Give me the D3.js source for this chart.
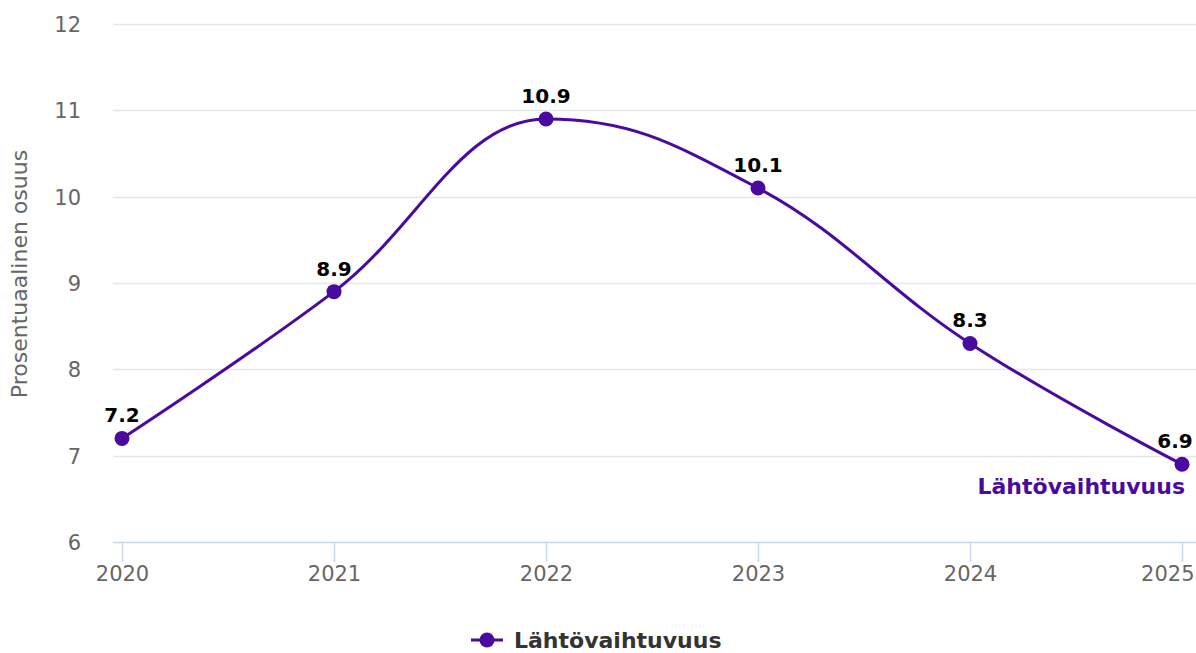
<!DOCTYPE html>
<html>
<head>
<meta charset="utf-8">
<script src="https://cdn.jsdelivr.net/npm/d3@7"></script>
<style>
  body { margin: 0; background: #fff; }
  svg { font-family: "DejaVu Sans", Verdana, sans-serif; }
</style>
</head>
<body>
<svg id="chart" width="1196" height="653"></svg>
<script>
var years = [2020, 2021, 2022, 2023, 2024, 2025];
var values = [7.2, 8.9, 10.9, 10.1, 8.3, 6.9];
var yTicks = [6, 7, 8, 9, 10, 11, 12];
var seriesName = "Lähtövaihtuvuus";
var axisTitle = "Prosentuaalinen osuus";

var color = "#4b0a9f";
var svg = d3.select("#chart");

var x = d3.scaleLinear().domain([2020, 2025]).range([122, 1182]);
var y = d3.scaleLinear().domain([6, 12]).range([542, 24]);

// grid
svg.append("g").selectAll("line")
  .data(yTicks.slice(1))
  .enter().append("line")
    .attr("x1", 113).attr("x2", 1196)
    .attr("y1", function(d) { return Math.round(y(d)) + 0.5; })
    .attr("y2", function(d) { return Math.round(y(d)) + 0.5; })
    .attr("stroke", "#e6e6e6").attr("stroke-width", 1.5);

// y labels
svg.append("g").selectAll("text")
  .data(yTicks)
  .enter().append("text")
    .attr("x", 81).attr("y", function(d) { return y(d) + 8; })
    .attr("text-anchor", "end")
    .attr("fill", "#666").attr("font-size", "21px")
    .text(function(d) { return d; });

svg.append("text")
  .attr("transform", "translate(27,274) rotate(-90)")
  .attr("text-anchor", "middle")
  .attr("fill", "#666").attr("font-size", "22px")
  .text(axisTitle);

// x axis
svg.append("line")
  .attr("x1", 113).attr("x2", 1196)
  .attr("y1", 542.5).attr("y2", 542.5)
  .attr("stroke", "#ccd6eb").attr("stroke-width", 1.5);
var xg = svg.append("g").selectAll("g")
  .data(years).enter().append("g")
  .attr("transform", function(d) { return "translate(" + (Math.round(x(d)) + 0.5) + ",0)"; });
xg.append("line").attr("y1", 542).attr("y2", 562)
  .attr("stroke", "#ccd6eb").attr("stroke-width", 1.5);
xg.append("text")
  .attr("y", 581)
  .attr("x", function(d, i) { return i === years.length - 1 ? 12 : 0; })
  .attr("text-anchor", function(d, i) { return i === years.length - 1 ? "end" : "middle"; })
  .attr("fill", "#666").attr("font-size", "21px")
  .text(function(d) { return d; });

// spline (Highcharts style)
var pts = years.map(function(d, i) { return [x(d), y(values[i])]; });
function splinePath(p) {
  var s = 1.5, den = 2.5, path = d3.path(), rc = [];
  path.moveTo(p[0][0], p[0][1]);
  rc[0] = p[0];
  for (var i = 1; i < p.length; i++) {
    var px = p[i][0], py = p[i][1], lx = p[i-1][0], ly = p[i-1][1];
    var lcx = px, lcy = py;
    if (i < p.length - 1) {
      var nx = p[i+1][0], ny = p[i+1][1];
      lcx = (s * px + lx) / den; lcy = (s * py + ly) / den;
      var rcx = (s * px + nx) / den, rcy = (s * py + ny) / den;
      var corr = ((rcy - lcy) * (rcx - px)) / (rcx - lcx) + py - rcy;
      lcy += corr; rcy += corr;
      if (lcy > ly && lcy > py) { lcy = Math.max(ly, py); rcy = 2 * py - lcy; }
      else if (lcy < ly && lcy < py) { lcy = Math.min(ly, py); rcy = 2 * py - lcy; }
      if (rcy > ny && rcy > py) { rcy = Math.max(ny, py); lcy = 2 * py - rcy; }
      else if (rcy < ny && rcy < py) { rcy = Math.min(ny, py); lcy = 2 * py - rcy; }
      rc[i] = [rcx, rcy];
    }
    path.bezierCurveTo(rc[i-1][0], rc[i-1][1], lcx, lcy, px, py);
  }
  return path.toString();
}
svg.append("path")
  .attr("d", splinePath(pts))
  .attr("fill", "none").attr("stroke", color).attr("stroke-width", 3);

svg.append("g").selectAll("circle")
  .data(years).enter().append("circle")
    .attr("cx", function(d) { return x(d); })
    .attr("cy", function(d, i) { return y(values[i]); })
    .attr("r", 7.5).attr("fill", color);

svg.append("g").selectAll("text")
  .data(years).enter().append("text")
    .attr("x", function(d, i) { return i === years.length - 1 ? x(d) - 7 : x(d); })
    .attr("y", function(d, i) { return y(values[i]) - 16; })
    .attr("text-anchor", "middle")
    .attr("font-size", "20px").attr("font-weight", "bold").attr("fill", "#000")
    .text(function(d, i) { return values[i]; });

// series label
svg.append("text")
  .attr("x", 1185).attr("y", 494)
  .attr("text-anchor", "end")
  .attr("font-size", "22px").attr("font-weight", "bold").attr("fill", color)
  .text(seriesName);

// legend
var lg = svg.append("g").attr("transform", "translate(471,640)");
lg.append("line").attr("x1", 0).attr("x2", 32).attr("y1", 0).attr("y2", 0)
  .attr("stroke", color).attr("stroke-width", 3);
lg.append("circle").attr("cx", 16).attr("cy", 0).attr("r", 7.5).attr("fill", color);
lg.append("text").attr("x", 43).attr("y", 8)
  .attr("font-size", "22px").attr("font-weight", "bold").attr("fill", "#333")
  .text(seriesName);
</script>
</body>
</html>
